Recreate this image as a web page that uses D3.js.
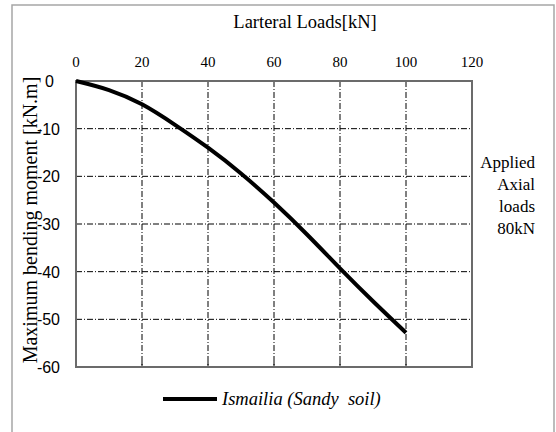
<!DOCTYPE html>
<html>
<head>
<meta charset="utf-8">
<script src="https://cdn.jsdelivr.net/npm/d3@7/dist/d3.min.js"></script>
<style>
  body { margin: 0; background: #fff; }
  svg { display: block; }
</style>
</head>
<body>
<svg id="chart" width="556" height="432"></svg>
<script>
// lateral load (kN) vs max bending moment (kN.m)
var loads   = [0, 10, 20, 30, 40, 50, 60, 70, 80, 90, 100];
var moments = [0, -1.9, -4.9, -9.2, -14.0, -19.4, -25.5, -32.2, -39.3, -46.2, -52.8];
var xTicks  = [0, 20, 40, 60, 80, 100, 120];
var yTicks  = [0, -10, -20, -30, -40, -50, -60];
var seriesName = 'Ismailia (Sandy\u00a0 soil)';
var noteLines  = ['Applied', 'Axial', 'loads', '80kN'];

var serif = '"Liberation Serif", "Times New Roman", serif';
var sans  = '"Liberation Sans", Arial, sans-serif';

var svg = d3.select('#chart');
// plot box edges (don't use "top" - clashes with window.top)
var pL = 76, pR = 472, pT = 81, pB = 367;

var x = d3.scaleLinear().domain([0, 120]).range([pL, pR]);
var y = d3.scaleLinear().domain([0, -60]).range([pT, pB]);

// outer chart border
svg.append('rect')
  .attr('x', 12).attr('y', 5)
  .attr('width', 542).attr('height', 440)
  .attr('fill', 'none').attr('stroke', '#a6a6a6').attr('stroke-width', 1.5);

// grid lines, dash-dot
var grid = svg.append('g').attr('stroke', '#000').attr('stroke-width', 1)
  .attr('stroke-dasharray', '6,2,1,2');
grid.selectAll('line.gx').data(xTicks.slice(1, -1)).enter().append('line')
  .attr('class', 'gx')
  .attr('x1', function(d) { return x(d); }).attr('x2', function(d) { return x(d); })
  .attr('y1', pT).attr('y2', pB);
grid.selectAll('line.gy').data(yTicks.slice(1, -1)).enter().append('line')
  .attr('class', 'gy')
  .attr('x1', pL).attr('x2', pR)
  .attr('y1', function(d) { return y(d); }).attr('y2', function(d) { return y(d); });

// tick marks on the bottom edge, pointing inward
svg.append('g').selectAll('line').data(xTicks).enter().append('line')
  .attr('x1', function(d) { return x(d); }).attr('x2', function(d) { return x(d); })
  .attr('y1', pB - 5).attr('y2', pB)
  .attr('stroke', '#000').attr('stroke-width', 1);

// plot frame
svg.append('rect')
  .attr('x', pL).attr('y', pT)
  .attr('width', pR - pL).attr('height', pB - pT)
  .attr('fill', 'none').attr('stroke', '#6b6b6b').attr('stroke-width', 2);

// x tick labels along the top
svg.append('g').selectAll('text').data(xTicks).enter().append('text')
  .attr('x', function(d) { return x(d); })
  .attr('y', 67)
  .attr('text-anchor', 'middle')
  .style('font-family', serif).style('font-size', '15px')
  .text(function(d) { return d; });

// y tick labels
svg.append('g').selectAll('text').data(yTicks).enter().append('text')
  .attr('x', function(d) { return d === 0 ? 54 : 60; })
  .attr('y', function(d) { return y(d) + 6; })
  .attr('text-anchor', 'end')
  .style('font-family', sans).style('font-size', '16px')
  .text(function(d) { return d; });

// axis titles
svg.append('text')
  .attr('x', 305).attr('y', 28)
  .attr('text-anchor', 'middle')
  .style('font-family', serif).style('font-size', '18.5px')
  .text('Larteral Loads[kN]');

svg.append('text')
  .attr('transform', 'translate(37,220) rotate(-90)')
  .attr('text-anchor', 'middle')
  .style('font-family', serif).style('font-size', '20px')
  .text('Maximum bending moment [kN.m]');

// side note
svg.append('g').selectAll('text').data(noteLines).enter().append('text')
  .attr('x', 535)
  .attr('y', function(d, i) { return 168 + i * 22; })
  .attr('text-anchor', 'end')
  .style('font-family', serif).style('font-size', '17px')
  .text(function(d) { return d; });

// the curve
var line = d3.line()
  .x(function(d, i) { return x(loads[i]); })
  .y(function(d) { return y(d); })
  .curve(d3.curveNatural);

svg.append('path')
  .datum(moments)
  .attr('d', line)
  .attr('fill', 'none')
  .attr('stroke', '#000')
  .attr('stroke-width', 4);

// legend
svg.append('line')
  .attr('x1', 163).attr('x2', 217)
  .attr('y1', 399).attr('y2', 399)
  .attr('stroke', '#000').attr('stroke-width', 4);
svg.append('text')
  .attr('x', 222).attr('y', 405)
  .style('font-family', serif).style('font-size', '18.5px').style('font-style', 'italic')
  .text(seriesName);
</script>
</body>
</html>
